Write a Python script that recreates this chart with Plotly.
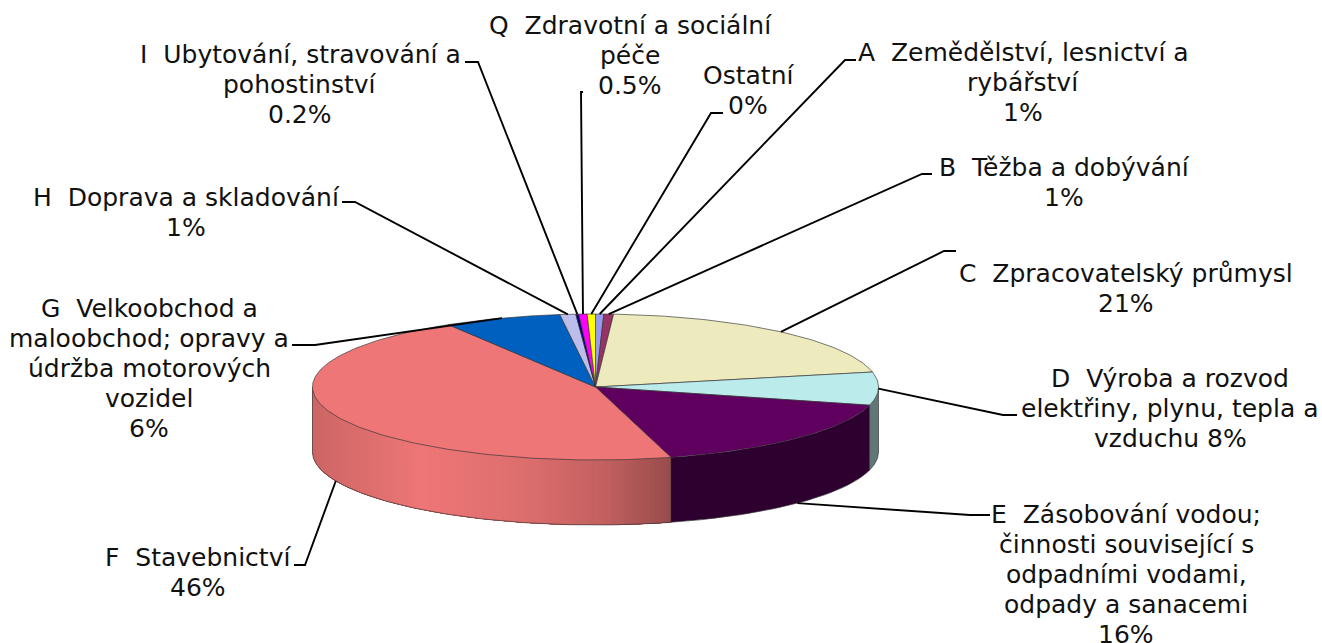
import numpy as np
import plotly.graph_objects as go

# hodnoty (podil v %), poradi po smeru hodin od vrcholu
KODY = ["A", "B", "C", "D", "E", "F", "G", "H", "I", "Q", "Ostatni"]
HODNOTY = [0.47, 0.55, 20.7, 7.3, 16.7, 45.6, 6.7, 0.9, 0.17, 0.47, 0.47]

BARVY = ["#9999F0", "#993366", "#EDEBBD", "#BCEBEB", "#5F005F", "#EE7676",
         "#0060C0", "#BDBDEB", "#000080", "#FF00FF", "#FFFF00"]
BARVY_BOK = {"D": "#5F7777", "E": "#2D0030"}

MEZERA = "\u00a0\u00a0"
POPISKY = [
    [f"A{MEZERA}Zemědělství, lesnictví a", "rybářství", "1%"],
    [f"B{MEZERA}Těžba a dobývání", "1%"],
    [f"C{MEZERA}Zpracovatelský průmysl", "21%"],
    [f"D{MEZERA}Výroba a rozvod", "elektřiny, plynu, tepla a", "vzduchu 8%"],
    [f"E{MEZERA}Zásobování vodou;", "činnosti související s", "odpadními vodami,", "odpady a sanacemi", "16%"],
    [f"F{MEZERA}Stavebnictví", "46%"],
    [f"G{MEZERA}Velkoobchod a", "maloobchod; opravy a", "údržba motorových", "vozidel", "6%"],
    [f"H{MEZERA}Doprava a skladování", "1%"],
    [f"I{MEZERA}Ubytování, stravování a", "pohostinství", "0.2%"],
    [f"Q{MEZERA}Zdravotní a sociální", "péče", "0.5%"],
    ["Ostatní", "0%"],
]

# stred popisku a prvni radek
POPISEK_X = [1023, 1064, 1126, 1170, 1126, 198, 149, 186, 300, 630, 748]
POPISEK_Y = [52, 167, 273, 378, 514, 557, 308, 197, 54, 25, 75]
RADEK = 30

# lomeni vodicich car: (konec u popisku, koleno)
VODICE = [
    ((856, 60), (845, 60)), ((932, 174), (922, 174)), ((956, 251), (944, 251)),
    ((1017, 415), (1003, 415)), ((990, 515), (970, 515)), ((294, 565), (305, 565)),
    ((292, 345), (315, 345)), ((342, 202), (355, 202)), ((465, 62), (478, 62)),
    ((583, 92), (581, 92)), ((723, 113), (711, 113)),
]

# geometrie kolace v pixelech
CX, CY, RX, RY, HLOUBKA = 595.5, 387, 283, 73, 65
FONT = "DejaVu Sans"
OBRYS = "rgba(50,50,50,0.65)"


def bod(uhel, dz=0):
    return CX + RX * np.sin(uhel), CY - RY * np.cos(uhel) + dz


def stin_f(x):
    # bocni gradient cerveneho dilu
    return np.interp(x, [312, 420, 520, 600, 672], [0.86, 1.0, 0.93, 0.82, 0.63])


def ztmav(barva, f):
    r, g, b = [int(barva[i:i + 2], 16) for i in (1, 3, 5)]
    return f"rgb({r * f:.0f},{g * f:.0f},{b * f:.0f})"


podily = np.array(HODNOTY) / sum(HODNOTY) * 2 * np.pi
hrany = np.concatenate([[0], np.cumsum(podily)])
stredy = (hrany[:-1] + hrany[1:]) / 2

fig = go.Figure()

# bocni stena - pasy se prekryvaji, aby mezi nimi nebyly spary
for i, kod in enumerate(KODY):
    a0, a1 = max(hrany[i], np.pi / 2), min(hrany[i + 1], 3 * np.pi / 2)
    if a1 <= a0:
        continue
    # cerveny dil jde zprava doleva: kazdy dalsi pas prekryje zbytek
    zacatky = np.linspace(a1, a0, 120, endpoint=False) if kod == "F" else [a1]
    for s in zacatky:
        t = np.linspace(a0, s, 80)
        x, y = bod(t)
        xd, yd = bod(t[::-1], HLOUBKA)
        barva = ztmav(BARVY[i], stin_f(x[-1])) if kod == "F" else BARVY_BOK[kod]
        fig.add_trace(go.Scatter(
            x=np.r_[x, xd, x[0]], y=np.r_[y, yd, y[0]], mode="lines", fill="toself",
            fillcolor=barva, line=dict(width=0), hoverinfo="skip",
        ))

# obrys spodni hrany a svisle hrany mezi dily
t = np.linspace(np.pi / 2, 3 * np.pi / 2, 200)
x, y = bod(t, HLOUBKA)
fig.add_trace(go.Scatter(x=x, y=y, mode="lines", line=dict(color=OBRYS, width=1), hoverinfo="skip"))
for a in [np.pi / 2, hrany[4], hrany[5], 3 * np.pi / 2]:
    x, y = bod(np.array([a, a]), np.array([0, HLOUBKA]))
    fig.add_trace(go.Scatter(x=x, y=y, mode="lines", line=dict(color=OBRYS, width=1), hoverinfo="skip"))

# horni plocha
for i, kod in enumerate(KODY):
    t = np.linspace(hrany[i], hrany[i + 1], max(4, int(podily[i] * 60)))
    x, y = bod(t)
    fig.add_trace(go.Scatter(
        x=np.r_[CX, x, CX], y=np.r_[CY, y, CY], mode="lines", fill="toself", name=kod,
        fillcolor=BARVY[i], line=dict(color=OBRYS, width=1), hoverinfo="skip",
    ))

# vodici cary od stredu dilu k popisku
for i, (konec, koleno) in enumerate(VODICE):
    a = stredy[i]
    dz = HLOUBKA if KODY[i] in ("E", "F") else 0
    x0, y0 = bod(a, dz)
    fig.add_trace(go.Scatter(
        x=[x0, koleno[0], konec[0]], y=[y0, koleno[1], konec[1]], mode="lines",
        line=dict(color="black", width=1.9), hoverinfo="skip",
    ))

# popisky po radcich kvuli presnemu radkovani
for radky, px_, py_ in zip(POPISKY, POPISEK_X, POPISEK_Y):
    for j, text in enumerate(radky):
        fig.add_annotation(
            x=px_, y=py_ + j * RADEK, text=text, showarrow=False,
            xanchor="center", yanchor="middle",
            font=dict(family=FONT, size=25, color="#111111"),
        )

fig.update_layout(
    width=1322, height=643, showlegend=False,
    margin=dict(l=0, r=0, t=0, b=0),
    paper_bgcolor="white", plot_bgcolor="white",
    xaxis=dict(range=[0, 1322], visible=False, fixedrange=True),
    yaxis=dict(range=[643, 0], visible=False, fixedrange=True),
)

fig.write_html("out.html", config=dict(displayModeBar=False),
               post_script="document.body.style.margin='0';")
